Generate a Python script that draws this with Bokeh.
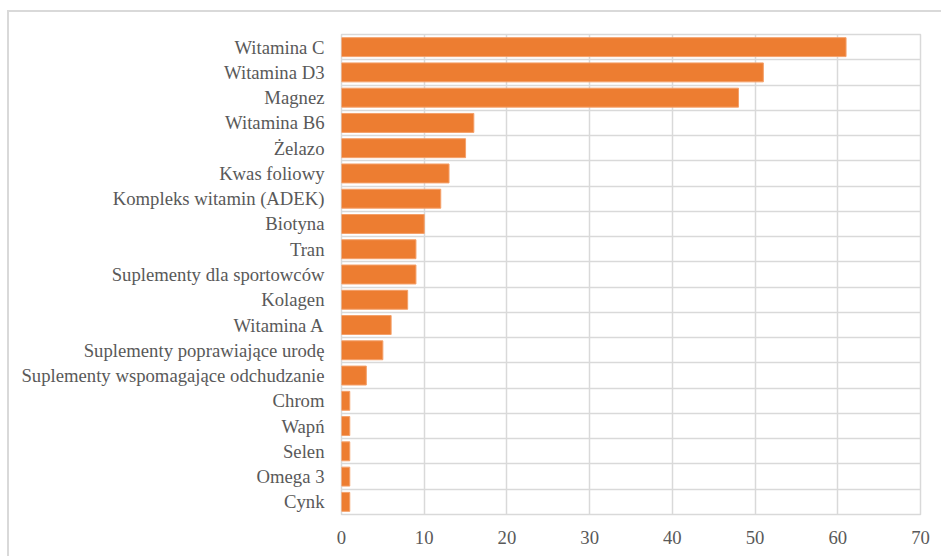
from bokeh.plotting import figure
from bokeh.models import ColumnDataSource, FixedTicker, Range1d
from bokeh.embed import file_html
from bokeh.resources import INLINE

categories = ["Witamina C", "Witamina D3", "Magnez", "Witamina B6", "Żelazo",
              "Kwas foliowy", "Kompleks witamin (ADEK)", "Biotyna", "Tran",
              "Suplementy dla sportowców", "Kolagen", "Witamina A",
              "Suplementy poprawiające urodę", "Suplementy wspomagające odchudzanie",
              "Chrom", "Wapń", "Selen", "Omega 3", "Cynk"]
values = [61, 51, 48, 16, 15, 13, 12, 10, 9, 9, 8, 6, 5, 3, 1, 1, 1, 1, 1]
x_ticks = [0, 10, 20, 30, 40, 50, 60, 70]

n = len(categories)
ypos = [n - i - 0.5 for i in range(n)]
src = ColumnDataSource(dict(y=ypos, v=values, name=categories))

p = figure(width=934, height=546, output_backend="svg", toolbar_location=None,
           x_range=Range1d(0, 70), y_range=Range1d(0, n),
           min_border_left=332, min_border_right=23, min_border_top=22, min_border_bottom=44)
p.styles = {"margin-left": "7px", "margin-top": "10px",
            "border-left": "2px solid #d9d9d9", "border-top": "2px solid #d9d9d9"}

p.hbar(y="y", right="v", left=0, height=0.75, source=src,
       fill_color="#ED7D31", line_color="#F4A06A", line_width=1)

p.xaxis.ticker = FixedTicker(ticks=x_ticks)
p.yaxis.ticker = FixedTicker(ticks=ypos)
p.yaxis.major_label_overrides = {y: c for y, c in zip(ypos, categories)}

for ax in (p.xaxis[0], p.yaxis[0]):
    ax.axis_line_color = None
    ax.major_tick_line_color = None
    ax.minor_tick_line_color = None
    ax.major_label_text_font = "Liberation Serif"
    ax.major_label_text_font_size = "18.7px"
    ax.major_label_text_color = "#595959"
p.yaxis.major_label_standoff = 11
p.xaxis.major_label_standoff = 10

p.xgrid.ticker = FixedTicker(ticks=x_ticks)
p.ygrid.ticker = FixedTicker(ticks=list(range(n + 1)))
p.xgrid.grid_line_color = "#d9d9d9"
p.ygrid.grid_line_color = "#d9d9d9"
p.xgrid.grid_line_width = 1.5
p.ygrid.grid_line_width = 1.5
p.outline_line_color = "#d9d9d9"
p.outline_line_width = 1.5

open("out.html", "w").write(file_html(p, INLINE))
